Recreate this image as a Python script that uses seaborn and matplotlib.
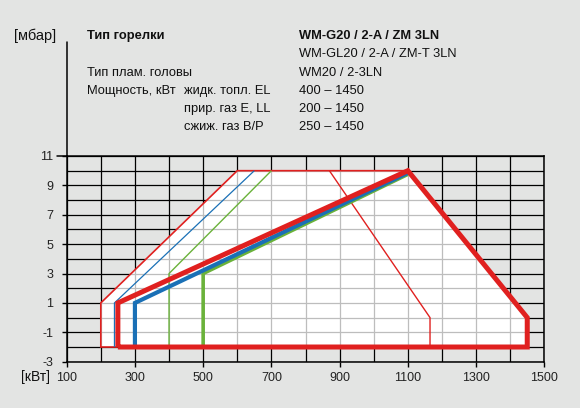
import matplotlib
matplotlib.use("Agg")
import matplotlib.pyplot as plt
import pandas as pd
import seaborn as sns
from matplotlib.lines import Line2D
from matplotlib.patches import Polygon

# envelope of the working field (white area)
envelope_x = [200, 200, 600, 1100, 1450, 1450]
envelope_y = [-2, 1, 10, 10, 0, -2]

# curves: power [kW] vs pressure [mbar]
red_thin_x = [250, 200, 200, 600, 1100]
red_thin_y = [-2, -2, 1, 10, 10]
red_inner_x = [870, 1165, 1165]
red_inner_y = [10, 0, -2]
red_thick_x = [250, 250, 1100, 1450, 1450, 250]
red_thick_y = [-2, 1, 10, 0, -2, -2]
blue_thin_x = [240, 240, 650]
blue_thin_y = [-2, 1, 10]
blue_thick_x = [300, 300, 1100]
blue_thick_y = [-2, 1, 9.85]
green_thin_x = [400, 400, 700]
green_thin_y = [-2, 3, 10]
green_thick_x = [500, 500, 1100]
green_thick_y = [-2, 3, 9.75]

x_ticks = [100, 300, 500, 700, 900, 1100, 1300, 1500]
x_tick_labels = ["100", "300", "500", "700", "900", "1100", "1300", "1500"]
y_ticks = [-3, -1, 1, 3, 5, 7, 9, 11]

header_rows = [
    ("Тип горелки", "", "WM-G20 / 2-A / ZM 3LN"),
    ("", "", "WM-GL20 / 2-A / ZM-T 3LN"),
    ("Тип плам. головы", "", "WM20 / 2-3LN"),
    ("Мощность, кВт", "жидк. топл. EL", "400 – 1450"),
    ("", "прир. газ E, LL", "200 – 1450"),
    ("", "сжиж. газ B/P", "250 – 1450"),
]

RED = "#e0201f"
BLUE = "#1a70b6"
GREEN = "#6ab23a"
BG = "#e3e4e3"

sns.set_theme(style="ticks")
plt.rcParams["font.family"] = ["Liberation Sans", "DejaVu Sans"]
plt.rcParams["axes.facecolor"] = BG
plt.rcParams["figure.facecolor"] = BG
plt.rcParams["axes.unicode_minus"] = False

fig = plt.figure(figsize=(5.8, 4.08), dpi=100)
ax = fig.add_axes([66.7 / 580, 1 - 361.7 / 408, (544.3 - 66.7) / 580, (361.7 - 156) / 408])

ax.set_xlim(100, 1500)
ax.set_ylim(-3, 11)
ax.set_xticks(x_ticks)
ax.set_xticklabels(x_tick_labels)
ax.set_xticks(range(100, 1501, 100), minor=True)
ax.set_yticks(y_ticks)
ax.set_yticks(range(-3, 12), minor=True)
ax.tick_params(which="major", direction="out", length=3.5, width=1, color="black",
               labelsize=9, labelcolor="#222222")
ax.tick_params(axis="x", which="major", pad=4)
ax.tick_params(axis="y", which="major", pad=6)
ax.tick_params(which="minor", length=0)
ax.grid(which="both", color="black", lw=0.9, zorder=0)
ax.set_axisbelow(True)
for s in ax.spines.values():
    s.set_color("black")
    s.set_linewidth(1.1)

# white working field with light grey grid inside
poly = Polygon(list(zip(envelope_x, envelope_y)), closed=True, facecolor="white",
               edgecolor="none", zorder=1)
ax.add_patch(poly)
for xv in range(100, 1501, 100):
    ln = ax.axvline(xv, color="#bdbdbd", lw=0.9, zorder=1.1)
    ln.set_clip_path(poly)
for yv in range(-3, 12):
    ln = ax.axhline(yv, color="#bdbdbd", lw=0.9, zorder=1.1)
    ln.set_clip_path(poly)


def draw(xs, ys, color, lw, z):
    df = pd.DataFrame({"x": xs, "y": ys})
    sns.lineplot(data=df, x="x", y="y", sort=False, estimator=None, color=color,
                 lw=lw, ax=ax, zorder=z, solid_joinstyle="miter", solid_capstyle="butt")


draw(red_thin_x, red_thin_y, RED, 1.2, 2)
draw(red_inner_x, red_inner_y, RED, 1.0, 2)
draw(blue_thin_x, blue_thin_y, BLUE, 0.9, 2)
draw(green_thin_x, green_thin_y, GREEN, 1.0, 2)
draw(green_thick_x, green_thick_y, GREEN, 2.6, 3)
draw(blue_thick_x, blue_thick_y, BLUE, 3.0, 4)
draw(red_thick_x, red_thick_y, RED, 3.6, 5)
ax.set_xlabel("")
ax.set_ylabel("")

# left spine extended upward, top line extended to the left
fig.add_artist(Line2D([66.7 / 580, 66.7 / 580], [1 - 41.7 / 408, 1 - 156 / 408],
                      color="black", lw=1.1))
fig.add_artist(Line2D([57 / 580, 66.7 / 580], [1 - 156 / 408, 1 - 156 / 408],
                      color="black", lw=1.1))

# header text
fs = 9.3
fig.text(56 / 580, 1 - 36 / 408, "[мбар]", ha="right", va="center", fontsize=10.5,
         color="#111111")
fig.text(50 / 580, 1 - 377 / 408, "[кВт]", ha="right", va="center", fontsize=10,
         color="#111111")
row_y = [36, 54, 72.5, 91, 109, 127.5]
for i, (a, b, c) in enumerate(header_rows):
    yy = 1 - row_y[i] / 408
    bold = "bold" if i == 0 else "normal"
    if a:
        fig.text(87 / 580, yy, a, ha="left", va="center", fontsize=fs,
                 weight=bold, color="#111111")
    if b:
        fig.text(184 / 580, yy, b, ha="left", va="center", fontsize=fs,
                 color="#111111")
    fig.text(299 / 580, yy, c, ha="left", va="center", fontsize=fs,
             weight=bold, color="#111111")

fig.savefig("out.png", dpi=100, facecolor=BG)
